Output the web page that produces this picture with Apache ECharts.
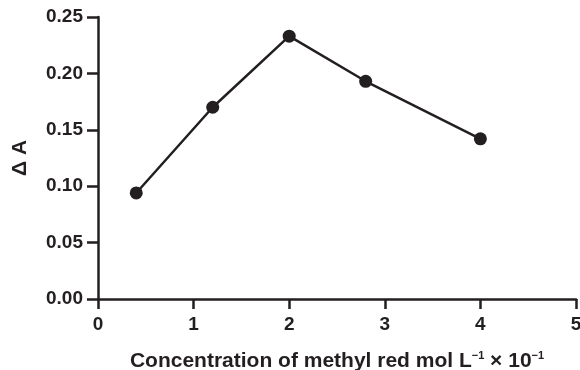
<!DOCTYPE html>
<html><head><meta charset="utf-8">
<script src="https://cdn.jsdelivr.net/npm/echarts@6/dist/echarts.min.js"></script>
<style>html,body{margin:0;padding:0;background:#fff}#c{width:580px;height:370px}</style>
</head><body><div id="c"></div>
<script>
const concentration = [0.4, 1.2, 2.0, 2.8, 4.0];
const deltaA = [0.094, 0.170, 0.233, 0.193, 0.142];
const xTicks = [0, 1, 2, 3, 4, 5];
const yTicks = [0.00, 0.05, 0.10, 0.15, 0.20, 0.25];

const ink = '#231f20';
const font = 'Liberation Sans';
const chart = echarts.init(document.getElementById('c'), null, {renderer: 'canvas'});
chart.setOption({
  animation: false,
  backgroundColor: '#fff',
  grid: {left: 98, right: 4, top: 17, bottom: 71, containLabel: false, outerBoundsMode: 'none'},
  xAxis: {
    type: 'value', min: xTicks[0], max: xTicks[xTicks.length - 1], interval: 1,
    splitLine: {show: false},
    axisLine: {show: true, lineStyle: {color: ink, width: 2.5}},
    axisTick: {show: true, length: 10, lineStyle: {color: ink, width: 2.5}},
    axisLabel: {color: ink, fontFamily: font, fontWeight: 'bold', fontSize: 19, margin: 16},
    name: '{t|Concentration of methyl red mol L}{s|−1}{t| × 10}{s|−1}',
    nameLocation: 'middle', nameGap: 51,
    nameTextStyle: {
      rich: {
        t: {color: ink, fontFamily: font, fontWeight: 'bold', fontSize: 21},
        s: {color: ink, fontFamily: font, fontWeight: 'bold', fontSize: 11, padding: [0, 0, 12, 0]}
      }
    }
  },
  yAxis: {
    type: 'value', min: yTicks[0], max: yTicks[yTicks.length - 1], interval: 0.05,
    splitLine: {show: false},
    axisLine: {show: true, lineStyle: {color: ink, width: 2.5}},
    axisTick: {show: true, length: 11, lineStyle: {color: ink, width: 2.5}},
    axisLabel: {color: ink, fontFamily: font, fontWeight: 'bold', fontSize: 19, margin: 15,
      formatter: v => v.toFixed(2)},
    name: 'Δ A', nameLocation: 'middle', nameGap: 67, nameRotate: 90,
    nameTextStyle: {color: ink, fontFamily: font, fontWeight: 'bold', fontSize: 21}
  },
  series: [{
    type: 'line',
    data: concentration.map((x, i) => [x, deltaA[i]]),
    symbol: 'circle', symbolSize: 13,
    lineStyle: {color: ink, width: 2.5},
    itemStyle: {color: ink}
  }]
});
</script></body></html>
